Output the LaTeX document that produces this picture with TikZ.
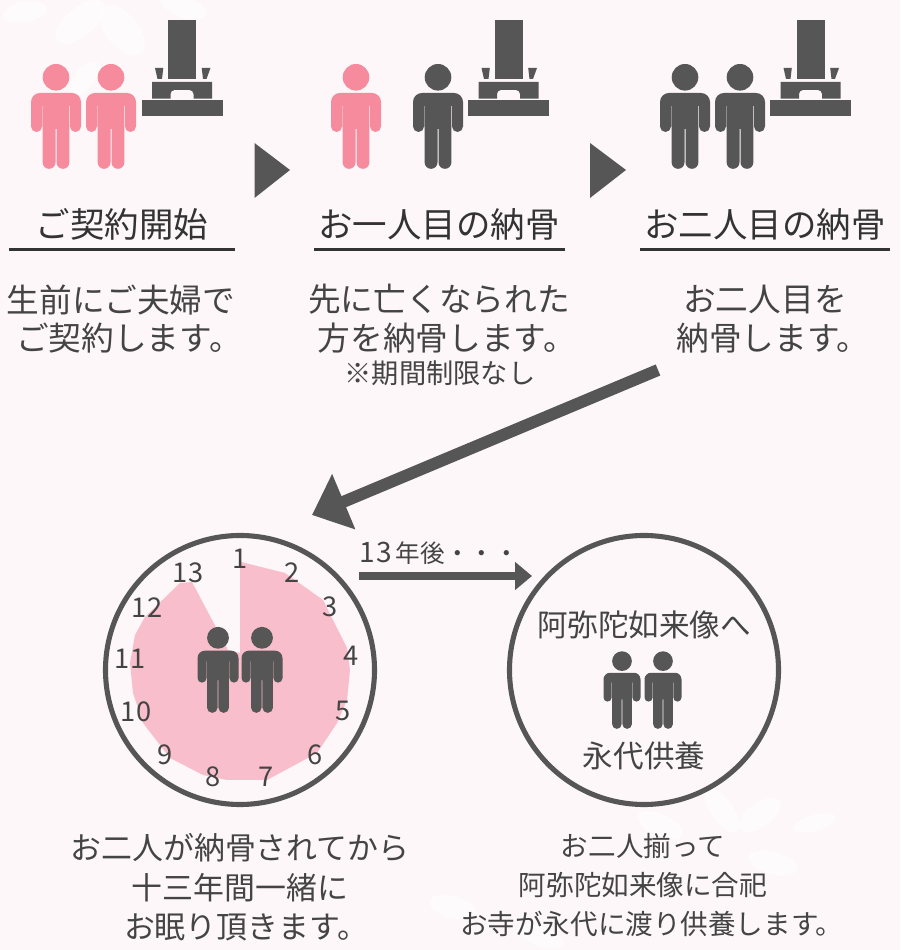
\documentclass[tikz,border=0pt]{standalone}
\usepackage{fontspec}
\setmainfont{Noto Sans CJK JP}
\usetikzlibrary{arrows.meta}
\definecolor{bgpink}{HTML}{FDF7FA}
\definecolor{darkgrey}{HTML}{565656}
\definecolor{txtgrey}{HTML}{444444}
\definecolor{titlegrey}{HTML}{333333}
\definecolor{personpink}{HTML}{F58B9D}
\definecolor{clockpink}{HTML}{F9BECB}
\tikzset{
  titletxt/.style={inner sep=0pt,text=titlegrey,font=\fontsize{19.6pt}{22pt}\selectfont},
  bodytxt/.style={inner sep=0pt,text=txtgrey,align=center,font=\fontsize{18.6pt}{22.1pt}\selectfont},
  notetxt/.style={inner sep=0pt,text=txtgrey,font=\fontsize{15.5pt}{18pt}\selectfont},
  circletxt/.style={inner sep=0pt,text=txtgrey,font=\fontsize{17.4pt}{20pt}\selectfont},
  lefttxt/.style={inner sep=0pt,text=txtgrey,align=center,font=\fontsize{17.6pt}{22.4pt}\selectfont},
  righttxt/.style={inner sep=0pt,text=txtgrey,align=center,font=\fontsize{15.7pt}{22.4pt}\selectfont},
  clocknum/.style={inner sep=0pt,text=txtgrey,font=\fontsize{15.5pt}{18pt}\selectfont},
  titleline/.style={line width=1.7pt,color=titlegrey},
  ringline/.style={line width=2.9pt,color=darkgrey},
  petal/.style={fill=white,opacity=0.55}
}
% x, y of the feet, scale, colour
\newcommand{\person}[4]{
\begin{scope}[shift={(#1,#2)},scale=#3]
\fill [#4] (0,91.7) circle (13.3);
\fill [#4] (-25,67) arc (180:90:9) -- (16,76) arc (90:0:9) -- (25,42.5) arc (0:-180:5.5) -- (14,63) -- (13.4,63) -- (13.4,6.6) arc (0:-180:6.45) -- (0.5,40) -- (-0.5,40) -- (-0.5,6.6) arc (0:-180:6.45) -- (-13.4,63) -- (-14,63) -- (-14,42.5) arc (0:-180:5.5) -- cycle;
\end{scope}
}
% x, y of the middle of the base
\newcommand{\gravestone}[2]{
\begin{scope}[shift={(#1,#2)}]
\fill [darkgrey] (-40.5,0) rectangle (40.5,16);
\fill [darkgrey] (-30,17.3) -- (-30,34) -- (30,34) -- (30,17.3) -- (11.5,17.3) -- (11.5,22) arc (0:90:4) -- (-7.5,26) arc (90:180:4) -- (-11.5,17.3) -- cycle;
\fill [darkgrey] (-14,36.7) rectangle (14,96);
\fill [darkgrey] (-27,48) -- (-18.7,48) -- (-20,37) -- (-24.5,37) -- cycle;
\fill [darkgrey] (19.7,48) -- (28.5,48) -- (24.5,37) -- (21,37) -- cycle;
\end{scope}
}
\begin{document}
\begin{tikzpicture}[line cap=butt,line join=miter,x=0.02cm,y=0.02cm]
\useasboundingbox (0,0) rectangle (900,950);
\fill [bgpink] (0,0) rectangle (900,950);
% petals
\fill [petal,rotate around={10:(25,938)}] (25,938) ellipse (22 and 10);
\fill [petal,rotate around={40:(80,928)}] (80,928) ellipse (30 and 14);
\fill [petal,rotate around={-50:(122,920)}] (122,920) ellipse (30 and 16);
\fill [petal,rotate around={-20:(183,943)}] (183,943) ellipse (24 and 10);
\fill [petal,rotate around={50:(85,872)}] (85,872) ellipse (20 and 10);
\fill [petal,rotate around={35:(760,135)}] (760,135) ellipse (24 and 12);
\fill [petal,rotate around={15:(815,127)}] (815,127) ellipse (22 and 8);
\fill [petal,rotate around={-15:(773,87)}] (773,87) ellipse (25 and 11);
\fill [petal,rotate around={-55:(722,140)}] (722,140) ellipse (26 and 11);
\fill [petal,rotate around={-25:(660,125)}] (660,125) ellipse (24 and 11);
\fill [petal,rotate around={-15:(453,43)}] (453,43) ellipse (24 and 11);
\fill [petal,rotate around={-20:(540,14)}] (540,14) ellipse (24 and 10);
% top row
\person{56}{781}{1}{personpink}
\person{111}{781}{1}{personpink}
\gravestone{182}{834}
\person{356}{781}{1}{personpink}
\person{438}{781}{1}{darkgrey}
\gravestone{508.5}{834}
\person{685}{781}{1}{darkgrey}
\person{740}{781}{1}{darkgrey}
\gravestone{810.5}{834}
\fill [darkgrey] (254.5,807) -- (290,780) -- (254.5,752) -- cycle;
\fill [darkgrey] (590,807) -- (626,780) -- (590,752) -- cycle;
\node [titletxt] (titleone) at (122,726) {ご契約開始};
\node [titletxt] (titletwo) at (439,726) {お一人目の納骨};
\node [titletxt] (titlethree) at (765,726) {お二人目の納骨};
\draw [titleline] (9,700) -- (235,700);
\draw [titleline] (314,700) -- (565,700);
\draw [titleline] (640,700) -- (890,700);
\node [bodytxt] (bodyone) at (121,631) {生前にご夫婦で\\\kern9pt ご契約します。};
\node [bodytxt] (bodytwo) at (439,631) {先に亡くなられた\\\kern9pt 方を納骨します。};
\node [notetxt] (bodynote) at (440,577) {※期間制限なし};
\node [bodytxt] (bodythree) at (765,631) {お二人目を\\\kern9pt 納骨します。};
% arrows
\coordinate (bigstart) at (658,580);
\coordinate (bigend) at (312,435);
\draw [line width=6.8pt,color=darkgrey,-{Triangle[length=19.6pt,width=33pt]}] (bigstart) -- (bigend);
\coordinate (yearstart) at (359,374);
\coordinate (yearend) at (532,374);
\draw [line width=5pt,color=darkgrey,-{Triangle[length=9.6pt,width=15.4pt]}] (yearstart) -- (yearend);
\node [inner sep=0pt,text=txtgrey,anchor=west,font=\fontsize{14pt}{16pt}\selectfont] (yeartxt) at (359,397) {{\fontsize{16pt}{16pt}\selectfont 1\kern1pt 3}\kern2pt 年後・・・};
% clock
\fill [clockpink] (240,388.3) -- (285,377) -- (323,350) -- (347,302) -- (350,280) -- (347,250) -- (337,227) -- (317,197) -- (267,170) -- (227,170) -- (203,175) -- (170,192) -- (143,227) -- (133,257) -- (130,287) -- (135,315) -- (145,333) -- (180,367) -- (192,368) -- (228,300) -- (240,297) -- cycle;
\draw [ringline] (240,280) circle (134.5);
\node [clocknum] (numa) at (240,391) {1};
\node [clocknum] (numb) at (292,377) {2};
\node [clocknum] (numc) at (330,343) {3};
\node [clocknum] (numd) at (351,294) {4};
\node [clocknum] (nume) at (343,239) {5};
\node [clocknum] (numf) at (315,195) {6};
\node [clocknum] (numg) at (266,173) {7};
\node [clocknum] (numh) at (213,173) {8};
\node [clocknum] (numi) at (165,195) {9};
\node [clocknum] (numj) at (136,238) {10};
\node [clocknum] (numk) at (130,291) {11};
\node [clocknum] (numl) at (147,342) {12};
\node [clocknum] (numm) at (188,377) {13};
\person{218}{237}{0.82}{darkgrey}
\person{262}{237}{0.82}{darkgrey}
% second circle
\draw [ringline] (644,280) circle (134.5);
\node [circletxt] (amida) at (644,325) {阿弥陀如来像へ};
\node [circletxt] (eitai) at (644,194) {永代供養};
\person{622}{221}{0.74}{darkgrey}
\person{663}{221}{0.74}{darkgrey}
% bottom texts
\node [lefttxt] (leftcap) at (240,62.5) {お二人が納骨されてから\\十三年間一緒に\\\kern7pt お眠り頂きます。};
\node [righttxt] (rightcap) at (643,65) {お二人揃って\\阿弥陀如来像に合祀\\\kern10pt お寺が永代に渡り供養します。};
\end{tikzpicture}
\end{document}
